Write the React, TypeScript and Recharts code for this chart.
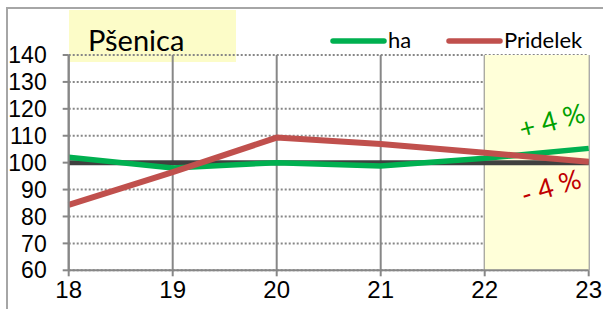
import React from 'react';
import {
  LineChart,
  Line,
  XAxis,
  YAxis,
  CartesianGrid,
  ReferenceArea,
  ReferenceLine,
  ReferenceDot,
} from 'recharts';

const years = [18, 19, 20, 21, 22, 23];
const haValues = [102, 98, 100, 98.8, 101.6, 105.3];
const pridelekValues = [84.3, 96.5, 109.3, 106.9, 103.7, 100.3];
const yTicks = [60, 70, 80, 90, 100, 110, 120, 130, 140];
const baseValue = 100;
const title = 'Pšenica';
const seriesNames = ['ha', 'Pridelek'];
const annotationUp = '+ 4 %';
const annotationDown = '- 4 %';

const data = years.map((y, i) => ({ year: y, ha: haValues[i], pridelek: pridelekValues[i] }));

const GREEN = '#00B050';
const RED = '#C0504D';
const GRID = '#878787';
const AXISFONT = '"Liberation Sans", Arial, sans-serif';
const TEXTFONT = 'Lato, "Open Sans", sans-serif';

const AnnotUp = (props: any) => (
  <g transform={`translate(${props.cx + 68} ${props.cy}) rotate(-15)`}>
    <text x={0} y={0} textAnchor="middle" dominantBaseline="middle" fontFamily={TEXTFONT} fontSize={27} fill="#00A000">
      {annotationUp}
    </text>
  </g>
);

const AnnotDown = (props: any) => (
  <g transform={`translate(${props.cx + 67} ${props.cy}) rotate(-17)`}>
    <text x={0} y={0} textAnchor="middle" dominantBaseline="middle" fontFamily={TEXTFONT} fontSize={27} fill="#C00000">
      {annotationDown}
    </text>
  </g>
);

export default function App() {
  return (
    <div style={{ position: 'absolute', left: 0, top: 0, width: 603, height: 309, overflow: 'hidden', background: '#fff' }}>
      <div
        style={{
          position: 'absolute',
          left: 6,
          top: 7,
          width: 700,
          height: 400,
          borderLeft: '2px solid #a6a6a6',
          borderTop: '2px solid #a6a6a6',
        }}
      />
      <div style={{ position: 'absolute', left: 69, top: 10, width: 167, height: 52, background: '#FCFCC8' }} />
      <div style={{ position: 'absolute', left: 0, top: 0 }}>
        <LineChart width={603} height={309} data={data} margin={{ top: 55, right: 14.3, bottom: 8.7, left: 8.7 }}>
          <ReferenceArea x1={22} x2={23} y1={60} y2={140} fill="#FFFFD9" fillOpacity={1} stroke="none" />
          <CartesianGrid horizontal={false} stroke={GRID} strokeWidth={2} />
          <CartesianGrid vertical={false} stroke={GRID} strokeWidth={2} strokeDasharray="2 2" />
          <XAxis
            dataKey="year"
            type="category"
            interval={0}
            height={30}
            tickSize={6}
            tickMargin={5}
            axisLine={{ stroke: GRID, strokeWidth: 2 }}
            tickLine={{ stroke: GRID, strokeWidth: 2 }}
            tick={{ fill: '#000', fontSize: 24, fontFamily: AXISFONT }}
          />
          <YAxis
            domain={[60, 140]}
            ticks={yTicks}
            interval={0}
            width={60}
            tickSize={6}
            tickMargin={16}
            axisLine={{ stroke: GRID, strokeWidth: 2 }}
            tickLine={{ stroke: GRID, strokeWidth: 2 }}
            tick={{ fill: '#000', fontSize: 23, fontFamily: AXISFONT }}
          />
          <ReferenceLine y={baseValue} stroke="#404040" strokeWidth={5} />
          <Line
            dataKey="ha"
            name={seriesNames[0]}
            stroke={GREEN}
            strokeWidth={5.5}
            dot={false}
            isAnimationActive={false}
          />
          <Line
            dataKey="pridelek"
            name={seriesNames[1]}
            stroke={RED}
            strokeWidth={6}
            dot={false}
            isAnimationActive={false}
          />
          <ReferenceDot x={22} y={114.5} r={0} shape={AnnotUp} />
          <ReferenceDot x={22} y={90} r={0} shape={AnnotDown} />
        </LineChart>
      </div>
      <svg width={603} height={309} style={{ position: 'absolute', left: 0, top: 0, pointerEvents: 'none' }}>
        <text x={88} y={51} fontFamily={TEXTFONT} fontSize={29} fill="#000">
          {title}
        </text>
        <line x1={333} x2={384} y1={41} y2={41} stroke={GREEN} strokeWidth={5.5} strokeLinecap="round" />
        <text x={388} y={48} fontFamily={TEXTFONT} fontSize={22} fill="#000">
          {seriesNames[0]}
        </text>
        <line x1={449} x2={500} y1={41} y2={41} stroke={RED} strokeWidth={5.5} strokeLinecap="round" />
        <text x={504} y={48} fontFamily={TEXTFONT} fontSize={22} fill="#000">
          {seriesNames[1]}
        </text>
      </svg>
    </div>
  );
}
